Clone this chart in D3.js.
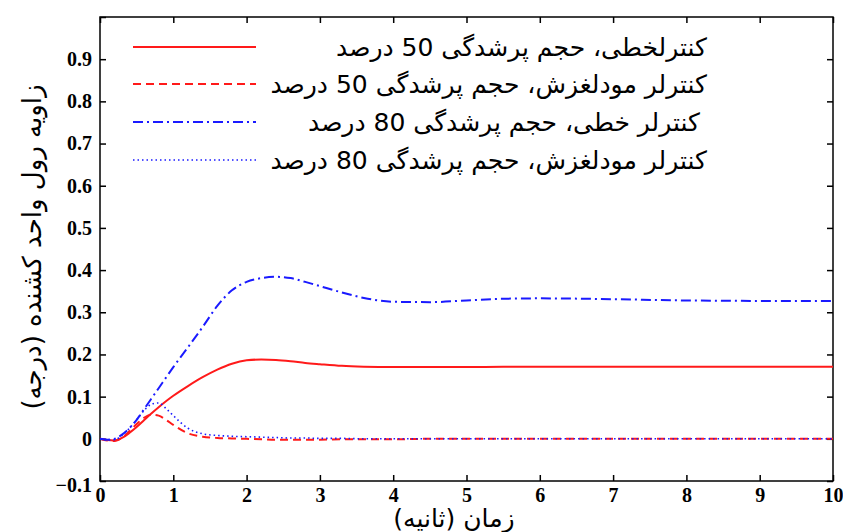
<!DOCTYPE html>
<html>
<head>
<meta charset="utf-8">
<script src="https://cdn.jsdelivr.net/npm/d3@7"></script>
<style>
  body { margin: 0; background: #fff; }
  .tick text { font-family: "Liberation Serif", "Times New Roman", serif; font-weight: bold; font-size: 20px; fill: #000; }
  .fa { font-family: "DejaVu Sans", sans-serif; }
</style>
</head>
<body>
<svg id="svg" width="843" height="532"></svg>
<script>
// time axis (seconds)
var times = [0, 0.1, 0.2, 0.3, 0.4, 0.5, 0.6, 0.7, 0.8, 0.9, 1.0, 1.2, 1.4, 1.6, 1.8, 2.0, 2.2, 2.4, 2.6, 2.8, 3.0, 3.3, 3.6, 4.0, 4.5, 5, 5.5, 6, 7, 8, 9, 10];

// linear controller, 50% fill
var lin50 = [0, -0.003, -0.004, 0.002, 0.014, 0.028, 0.044, 0.06, 0.075, 0.089, 0.102, 0.125, 0.146, 0.164, 0.178, 0.186, 0.188, 0.187, 0.184, 0.18, 0.177, 0.173, 0.171, 0.17, 0.17, 0.17, 0.171, 0.171, 0.171, 0.171, 0.171, 0.171];
// sliding mode controller, 50% fill
var smc50 = [0, -0.004, -0.005, 0.002, 0.018, 0.035, 0.05, 0.057, 0.055, 0.045, 0.033, 0.013, 0.005, 0.002, 0.001, 0, -0.001, -0.002, -0.002, -0.002, -0.002, -0.001, -0.001, -0.001, 0, 0, 0, 0, 0, 0, 0, 0];
// linear controller, 80% fill
var lin80 = [0, -0.002, 0, 0.01, 0.025, 0.045, 0.07, 0.095, 0.12, 0.145, 0.17, 0.217, 0.265, 0.315, 0.352, 0.372, 0.381, 0.384, 0.381, 0.372, 0.362, 0.347, 0.334, 0.325, 0.324, 0.328, 0.332, 0.333, 0.331, 0.328, 0.327, 0.327];
// sliding mode controller, 80% fill
var smc80 = [0, -0.003, -0.002, 0.008, 0.025, 0.045, 0.067, 0.082, 0.085, 0.072, 0.055, 0.025, 0.012, 0.008, 0.006, 0.005, 0.004, 0.003, 0.002, 0.002, 0.001, 0.001, 0, 0, 0, 0, 0, 0, 0, 0, 0, 0];

var xTicks = [0, 1, 2, 3, 4, 5, 6, 7, 8, 9, 10];
var yTicks = [-0.1, 0, 0.1, 0.2, 0.3, 0.4, 0.5, 0.6, 0.7, 0.8, 0.9];

var legendLabels = [
  "کنترلخطی، حجم پرشدگی 50 درصد",
  "کنترلر مودلغزش، حجم پرشدگی 50 درصد",
  "کنترلر خطی، حجم پرشدگی 80 درصد",
  "کنترلر مودلغزش، حجم پرشدگی 80 درصد"
];

var series = [
  { vals: lin50, color: "#ff1a1a", dash: null, w: 2 },
  { vals: smc50, color: "#ff1a1a", dash: "8,5", w: 2 },
  { vals: lin80, color: "#1a1aff", dash: "10,4,2,4", w: 2 },
  { vals: smc80, color: "#1a1aff", dash: "1.5,3", w: 1.6 }
];

var svg = d3.select("#svg");
var mLeft = 100, mRight = 833, mTop = 17, mBottom = 481;

var x = d3.scaleLinear().domain([0, 10]).range([mLeft, mRight]);
var y = d3.scaleLinear().domain([-0.1, 1.0]).range([mBottom, mTop]);

// axes with inward ticks
svg.append("g").attr("transform", "translate(0," + mBottom + ")")
  .call(d3.axisBottom(x).tickValues(xTicks).tickSizeInner(-6).tickSizeOuter(0).tickPadding(7).tickFormat(d3.format("d")));
svg.append("g").attr("transform", "translate(0," + mTop + ")")
  .call(d3.axisTop(x).tickValues(xTicks).tickSizeInner(-6).tickSizeOuter(0).tickFormat(""));
svg.append("g").attr("transform", "translate(" + mLeft + ",0)")
  .call(d3.axisLeft(y).tickValues(yTicks.concat([1.0])).tickSizeInner(-6).tickSizeOuter(0).tickPadding(8)
    .tickFormat(function(d){ return d === 1 ? "" : (d === 0 ? "0" : d3.format(".1f")(d)); }));
svg.append("g").attr("transform", "translate(" + mRight + ",0)")
  .call(d3.axisRight(y).tickValues(yTicks).tickSizeInner(-6).tickSizeOuter(0).tickFormat(""));

svg.selectAll(".domain").remove();
svg.selectAll(".tick line").attr("stroke", "#000").attr("stroke-width", 1.5);

// -0.1 label sits a little lower in the original
svg.selectAll(".tick text").filter(function(d){ return d === -0.1; }).attr("dy", "0.5em");

// frame
svg.append("rect")
  .attr("x", mLeft).attr("y", mTop)
  .attr("width", mRight - mLeft).attr("height", mBottom - mTop)
  .attr("fill", "none").attr("stroke", "#000").attr("stroke-width", 1.5);

var line = d3.line()
  .x(function(d, i){ return x(times[i]); })
  .y(function(d){ return y(d); })
  .curve(d3.curveMonotoneX);

series.forEach(function(s){
  svg.append("path")
    .datum(s.vals)
    .attr("d", line)
    .attr("fill", "none")
    .attr("stroke", s.color)
    .attr("stroke-width", s.w)
    .attr("stroke-dasharray", s.dash);
});

// legend
var legY = [47, 84, 122, 160];
series.forEach(function(s, i){
  svg.append("line")
    .attr("x1", 133).attr("x2", 256)
    .attr("y1", legY[i]).attr("y2", legY[i])
    .attr("stroke", s.color)
    .attr("stroke-width", s.w)
    .attr("stroke-dasharray", s.dash);
  svg.append("text")
    .attr("class", "fa")
    .attr("x", i === 2 ? 700 : 707).attr("y", legY[i] + 9)
    .attr("text-anchor", "start")
    .attr("direction", "rtl")
    .style("font-size", "25px")
    .text(legendLabels[i]);
});

// axis titles
svg.append("text")
  .attr("class", "fa")
  .attr("transform", "translate(41,247) rotate(-90)")
  .attr("text-anchor", "middle")
  .attr("direction", "rtl")
  .style("font-size", "26px")
  .text("زاویه رول واحد کشنده (درجه)");

svg.append("text")
  .attr("class", "fa")
  .attr("x", 454).attr("y", 527)
  .attr("text-anchor", "middle")
  .attr("direction", "rtl")
  .style("font-size", "25px")
  .text("زمان (ثانیه)");
</script>
</body>
</html>
